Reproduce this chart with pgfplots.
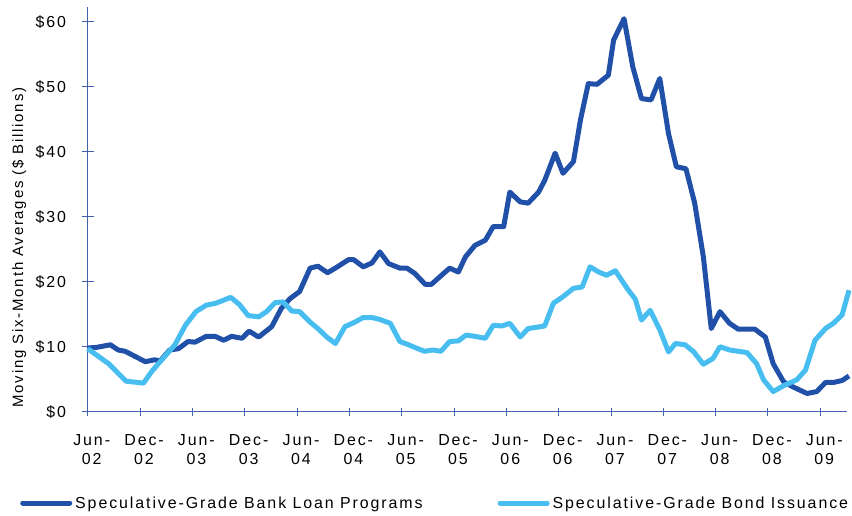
\documentclass[border=0pt]{standalone}
\usepackage{pgfplots}
\pgfplotsset{compat=1.18}
\usepackage{fontspec}
\setmainfont{Liberation Sans}[LetterSpace=12]
\definecolor{darkln}{RGB}{32,80,168}
\definecolor{lightln}{RGB}{72,190,240}
\definecolor{axcol}{RGB}{68,98,178}
\begin{document}
\begin{tikzpicture}
\begin{axis}[
  at={(87.7bp,104.3bp)}, anchor=south west,
  scale only axis, width=759.6bp, height=404.7bp,
  xmin=0, xmax=87.1, ymin=0, ymax=62.3,
  axis lines=left,
  axis line style={draw=axcol, line width=0.9bp, -},
  clip=false,
  tick align=center,
  major tick length=12bp,
  xtick style={/pgfplots/major tick length=8bp},
  tick style={draw=axcol, line width=0.9bp},
  xtick={0,6,...,84},
  xticklabels={{Jun-\\02},{Dec-\\02},{Jun-\\03},{Dec-\\03},{Jun-\\04},{Dec-\\04},{Jun-\\05},{Dec-\\05},{Jun-\\06},{Dec-\\06},{Jun-\\07},{Dec-\\07},{Jun-\\08},{Dec-\\08},{Jun-\\09}},
  xticklabel style={align=center, font=\fontsize{16}{19}\selectfont, inner sep=0pt, anchor=north, xshift=4bp, yshift=-16.6bp},
  ytick={0,10,...,60},
  yticklabels={\$0,\$10,\$20,\$30,\$40,\$50,\$60},
  yticklabel style={font=\fontsize{16}{19}\selectfont, inner sep=0pt, anchor=east, xshift=-15.5bp},
  ylabel={Moving Six-Month Averages (\$ Billions)},
  ylabel style={font=\fontsize{15}{18}\selectfont, at={(axis description cs:-0.0904,0.4057)}, anchor=center},
  legend columns=2,
  legend style={at={(axis description cs:-0.0891,-0.2256)}, anchor=west, draw=none, fill=none, inner sep=0pt, font=\fontsize{16}{19}\selectfont, nodes={inner sep=0pt}, /tikz/every odd column/.append style={column sep=3bp}, /tikz/every even column/.append style={column sep=75bp}},
  legend cell align=left,
  legend image code/.code={\draw[#1, line width=5bp, line cap=round] (2.5bp,0bp) -- (49.5bp,0bp);},
]
\addplot[darkln, line width=5bp, line join=round, no marks] coordinates {
(0.0,9.8) (1.0,9.9) (2.6,10.3) (3.5,9.5) (4.3,9.3) (6.6,7.7) (7.7,8.0) (8.3,7.8) (9.4,9.5) (10.4,9.7)
(11.5,10.8) (12.3,10.7) (13.6,11.6) (14.6,11.6) (15.6,11.0) (16.5,11.6) (17.7,11.3) (18.5,12.4) (19.6,11.5)
(21.1,13.1) (22.2,15.9) (23.2,17.4) (24.3,18.5) (25.5,22.1) (26.4,22.4) (27.5,21.4) (28.4,22.1) (29.9,23.4)
(30.5,23.4) (31.6,22.3) (32.6,22.9) (33.5,24.6) (34.5,22.8) (35.8,22.1) (36.6,22.1) (37.5,21.3) (38.7,19.6)
(39.4,19.6) (41.5,22.1) (42.5,21.5) (43.3,23.8) (44.4,25.6) (45.6,26.4) (46.5,28.5) (47.7,28.5) (48.4,33.8)
(49.6,32.3) (50.5,32.1) (51.7,33.8) (52.4,35.6) (53.6,39.8) (54.5,36.7) (55.7,38.5) (56.5,44.9) (57.4,50.5)
(58.4,50.4) (59.7,51.8) (60.3,57.2) (61.5,60.5) (62.5,53.1) (63.5,48.2) (64.6,48.0) (65.6,51.3) (66.6,42.8)
(67.5,37.7) (68.6,37.4) (69.6,32.1) (70.6,23.8) (71.5,12.8) (72.5,15.4) (73.6,13.6) (74.6,12.7) (76.5,12.7)
(77.7,11.5) (78.6,7.4) (79.8,4.6) (80.9,3.8) (82.5,2.8) (83.6,3.1) (84.6,4.5) (85.5,4.5) (86.5,4.8) (87.3,5.5)
};
\addlegendentry{Speculative-Grade Bank Loan Programs}
\addplot[lightln, line width=5bp, line join=round, no marks] coordinates {
(0.0,9.7) (2.4,7.4) (4.4,4.7) (6.4,4.4) (7.4,6.3) (10.0,10.3) (11.2,13.3) (12.4,15.4) (13.6,16.4) (14.7,16.7)
(16.4,17.6) (17.4,16.5) (18.4,14.8) (19.6,14.6) (20.5,15.4) (21.5,16.8) (22.4,16.9) (23.4,15.5) (24.3,15.4)
(25.5,13.8) (26.4,12.8) (27.4,11.5) (28.4,10.5) (29.5,13.1) (30.5,13.7) (31.6,14.5) (32.6,14.5) (33.5,14.2)
(34.7,13.6) (35.8,10.8) (36.8,10.3) (37.5,9.9) (38.6,9.3) (39.6,9.5) (40.5,9.3) (41.5,10.8) (42.5,10.9)
(43.4,11.8) (44.4,11.6) (45.6,11.3) (46.5,13.3) (47.5,13.2) (48.4,13.6) (49.6,11.5) (50.5,12.8) (51.5,13.0)
(52.4,13.2) (53.4,16.7) (54.5,17.7) (55.7,19.0) (56.7,19.2) (57.6,22.3) (58.6,21.5) (59.5,21.0) (60.5,21.7)
(62.0,18.7) (62.8,17.3) (63.5,14.1) (64.5,15.6) (65.6,12.6) (66.6,9.2) (67.4,10.5) (68.5,10.3) (69.5,9.2)
(70.6,7.3) (71.7,8.2) (72.5,10.0) (73.6,9.5) (74.6,9.3) (75.6,9.1) (76.7,7.4) (77.5,4.9) (78.6,3.1) (79.8,4.0)
(81.3,4.9) (82.3,6.4) (83.4,11.0) (84.6,12.8) (85.5,13.6) (86.5,14.9) (87.3,18.7)
};
\addlegendentry{Speculative-Grade Bond Issuance}
\end{axis}
\pgfresetboundingbox
\path[use as bounding box] (0,0) rectangle (852bp,516bp);
\end{tikzpicture}
\end{document}
